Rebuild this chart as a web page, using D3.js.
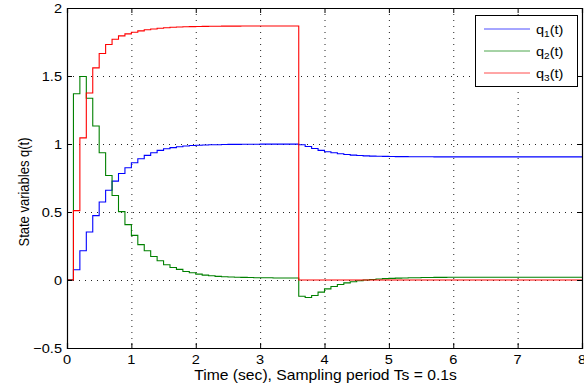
<!DOCTYPE html>
<html><head><meta charset="utf-8">
<script src="https://cdn.jsdelivr.net/npm/d3@7"></script>
<style>
body{margin:0;background:#fff;}
text{font-family:"Liberation Sans",Arial,Helvetica,sans-serif;fill:#000;}
</style></head>
<body><svg id="c" width="584" height="387"></svg>
<script>
const Ts = 0.1;
const seriesNames = ["q1", "q2", "q3"];
const seriesColors = ["#0000ff", "#008000", "#ff0000"];
const q1 = [0, 0.075, 0.215, 0.353, 0.473, 0.574, 0.660, 0.727, 0.783, 0.825,
 0.862, 0.891, 0.916, 0.936, 0.953, 0.965, 0.973, 0.980, 0.985, 0.989,
 0.991, 0.993, 0.994, 0.995, 0.996, 0.997, 0.997, 0.998, 0.998, 0.998,
 0.999, 0.999, 0.999, 0.999, 0.999, 0.999, 0.995, 0.982, 0.967, 0.953,
 0.943, 0.936, 0.928, 0.923, 0.918, 0.915, 0.913, 0.911, 0.910, 0.909,
 0.908, 0.907, 0.907, 0.906, 0.906, 0.906, 0.906, 0.905, 0.905, 0.905,
 0.905, 0.905, 0.905, 0.905, 0.905, 0.905, 0.905, 0.905, 0.905, 0.905,
 0.905, 0.905, 0.905, 0.905, 0.905, 0.905, 0.905, 0.905, 0.905, 0.905, 0.905];
const q2 = [0, 1.370, 1.496, 1.336, 1.132, 0.936, 0.768, 0.621, 0.503, 0.407,
 0.328, 0.260, 0.215, 0.173, 0.141, 0.112, 0.092, 0.078, 0.063, 0.053,
 0.043, 0.036, 0.031, 0.027, 0.024, 0.022, 0.020, 0.019, 0.018, 0.017,
 0.016, 0.016, 0.015, 0.015, 0.015, 0.015, -0.120, -0.129, -0.114, -0.089,
 -0.065, -0.048, -0.033, -0.021, -0.013, -0.006, 0.000, 0.004, 0.007, 0.010,
 0.012, 0.014, 0.015, 0.016, 0.017, 0.018, 0.018, 0.019, 0.019, 0.020,
 0.020, 0.020, 0.020, 0.020, 0.020, 0.020, 0.020, 0.020, 0.020, 0.020,
 0.020, 0.020, 0.020, 0.020, 0.020, 0.020, 0.020, 0.020, 0.020, 0.020, 0.020];
const q3 = [0, 0.510, 1.045, 1.375, 1.560, 1.665, 1.732, 1.770, 1.795, 1.810,
 1.822, 1.832, 1.840, 1.846, 1.851, 1.855, 1.858, 1.860, 1.862, 1.863,
 1.864, 1.865, 1.866, 1.866, 1.867, 1.867, 1.867, 1.868, 1.868, 1.868,
 1.868, 1.868, 1.868, 1.868, 1.868, 1.868, 0, 0, 0, 0,
 0, 0, 0, 0, 0, 0, 0, 0, 0, 0,
 0, 0, 0, 0, 0, 0, 0, 0, 0, 0,
 0, 0, 0, 0, 0, 0, 0, 0, 0, 0,
 0, 0, 0, 0, 0, 0, 0, 0, 0, 0, 0];
const xTicks = [0, 1, 2, 3, 4, 5, 6, 7, 8];
const yTicks = [-0.5, 0, 0.5, 1, 1.5, 2];
const legendLabels = [["q", "1", "(t)"], ["q", "2", "(t)"], ["q", "3", "(t)"]];
const xLabel = "Time (sec), Sampling period Ts = 0.1s";
const yLabel = "State variables q(t)";

const svg = d3.select("#c");
const L = 67, R = 582, T = 8, B = 348;
const x = d3.scaleLinear().domain([0, 8]).range([L, R]);
const y = d3.scaleLinear().domain([-0.5, 2]).range([B, T]);
const SX = 1.12;

// grid
const grid = svg.append("g");
grid.selectAll(".gx").data(xTicks.slice(1, -1)).enter().append("line")
  .attr("x1", d => x(d) + 0.5).attr("x2", d => x(d) + 0.5)
  .attr("y1", T).attr("y2", B)
  .attr("stroke", "#222").attr("stroke-width", 1).attr("stroke-dasharray", "1,5");
grid.selectAll(".gy").data(yTicks.slice(1, -1)).enter().append("line")
  .attr("y1", d => Math.round(y(d)) + 0.5).attr("y2", d => Math.round(y(d)) + 0.5)
  .attr("x1", L).attr("x2", R)
  .attr("stroke", "#222").attr("stroke-width", 1).attr("stroke-dasharray", "1,5");

// lines
const series = [q1, q2, q3];
const line = d3.line().x((d, i) => x(i * Ts)).y(d => y(d)).curve(d3.curveStepAfter);
series.forEach((s, k) => {
  svg.append("path").datum(s).attr("d", line).attr("fill", "none")
    .attr("stroke", seriesColors[k]).attr("stroke-width", 1.1);
});

// axes box and ticks
const axB = d3.axisBottom(x).tickValues(xTicks).tickSize(-5).tickFormat("");
const axT = d3.axisTop(x).tickValues(xTicks).tickSize(-5).tickFormat("");
const axL = d3.axisLeft(y).tickValues(yTicks).tickSize(-5).tickFormat("");
const axR = d3.axisRight(y).tickValues(yTicks).tickSize(-5).tickFormat("");
[[axB, `translate(0,${B})`], [axT, `translate(0,${T})`], [axL, `translate(${L},0)`], [axR, `translate(${R},0)`]]
  .forEach(([a, tr]) => {
    const g = svg.append("g").attr("transform", tr).call(a);
    g.select(".domain").attr("stroke", "#000").attr("stroke-width", 1.2);
    g.selectAll(".tick line").attr("stroke", "#000");
  });

// tick labels
const fmt = v => (v < 0 ? "\u2212" + Math.abs(v) : String(v));
svg.append("g").selectAll("text").data(xTicks).enter().append("text")
  .attr("transform", d => `translate(${x(d)},364) scale(${SX},1)`)
  .attr("text-anchor", "middle").attr("font-size", 13).text(fmt);
svg.append("g").selectAll("text").data(yTicks).enter().append("text")
  .attr("transform", d => `translate(62,${y(d) + 4.6}) scale(${SX},1)`)
  .attr("text-anchor", "end").attr("font-size", 13).text(fmt);

// axis labels
svg.append("text").attr("transform", `translate(${(L + R) / 2 + 1},380) scale(${SX},1)`)
  .attr("text-anchor", "middle").attr("font-size", 14).text(xLabel);
svg.append("text").attr("transform", `translate(28.5,192) rotate(-90) scale(1,${SX})`)
  .attr("text-anchor", "middle").attr("font-size", 13).text(yLabel);

// legend
const lg = svg.append("g");
lg.append("rect").attr("x", 475.5).attr("y", 15.5).attr("width", 102).attr("height", 71)
  .attr("fill", "#fff").attr("stroke", "#000").attr("stroke-width", 1);
const ly = [29, 51, 73];
legendLabels.forEach((lab, k) => {
  lg.append("line").attr("x1", 484).attr("x2", 530).attr("y1", ly[k]).attr("y2", ly[k])
    .attr("stroke", seriesColors[k]).attr("stroke-width", 1).attr("stroke-opacity", 0.7);
  const t = lg.append("text").attr("transform", `translate(536,${ly[k] + 4.5}) scale(${SX},1)`)
    .attr("font-size", 13);
  t.append("tspan").text(lab[0]);
  t.append("tspan").attr("font-size", 9).attr("dy", 3.5).text(lab[1]);
  t.append("tspan").attr("dy", -3.5).text(lab[2]);
});
</script></body></html>
